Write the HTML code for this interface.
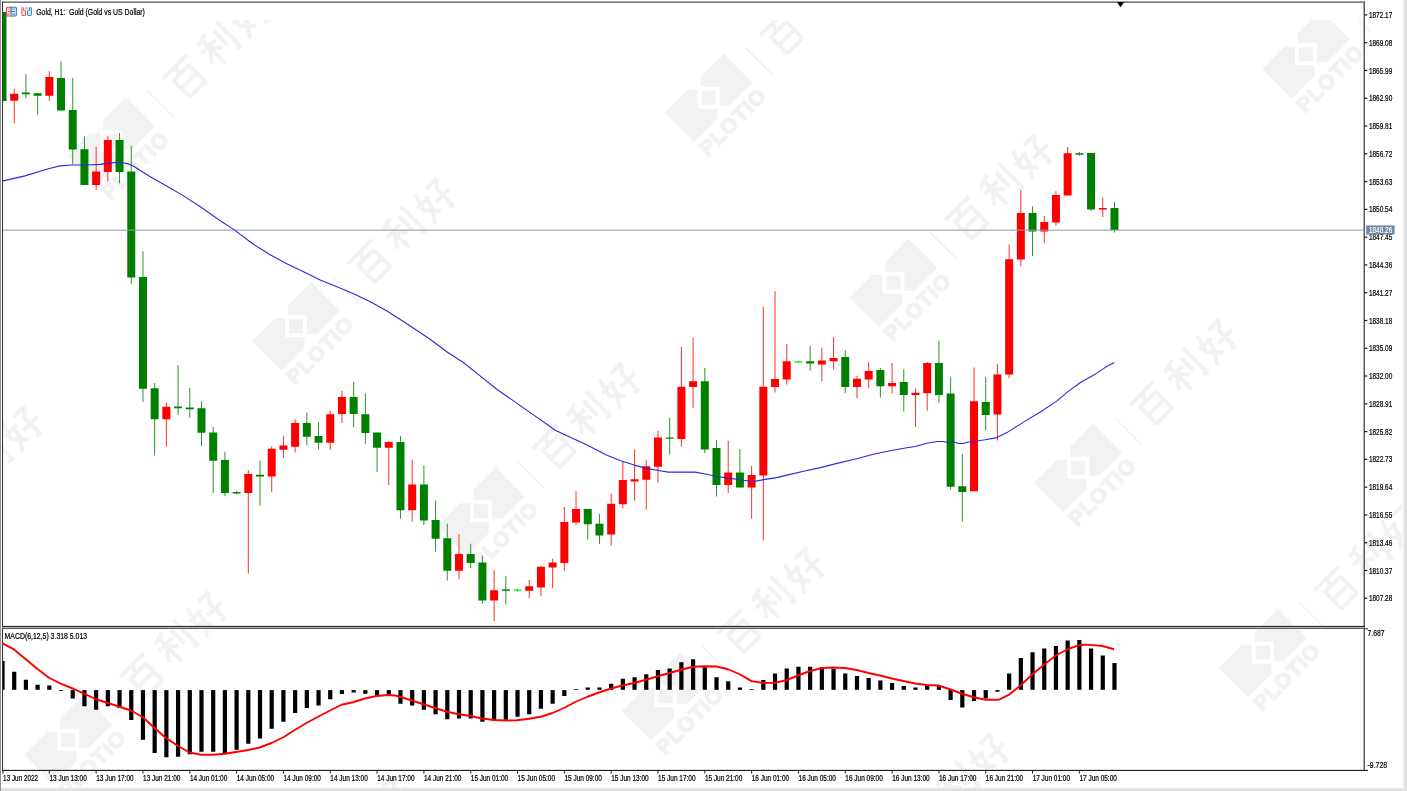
<!DOCTYPE html><html><head><meta charset="utf-8"><title>Gold H1</title>
<style>html,body{margin:0;padding:0;background:#fff;}body{width:1407px;height:791px;overflow:hidden;}svg{display:block;will-change:transform;}text{font-family:"Liberation Sans",sans-serif;}.t text{stroke:#000;stroke-width:0.22px;fill:#000;}</style>
</head><body>
<svg width="1407" height="791" viewBox="0 0 1407 791">
<rect x="0" y="0" width="1407" height="791" fill="#fff"/>
<defs>
<g id="wm" fill="#f2f2f2" stroke="none">
<path d="M15,-44 L44,-15 L21,8 L11,8 L11,-11 L-8,-11 L-8,-21 Z"/>
<path d="M-43.9,15 L-20.9,-8 L-11,-8 L-11,11 L8.5,11 L8.5,21.4 L-14.5,44.4 Z"/>
<rect x="-7" y="-7" width="14" height="14"/>
<text transform="translate(23.9,23.8) rotate(-45)" text-anchor="middle" font-weight="bold" font-size="21" letter-spacing="1.2" y="7.6" stroke="#f2f2f2" stroke-width="1.6" stroke-linejoin="miter">PLOTIO</text>
<path d="M36.4,-50.4 L63.7,-23.1" stroke="#f2f2f2" stroke-width="1.6" fill="none"/>
<g fill="none" stroke="#f2f2f2" stroke-width="10.3" stroke-linecap="butt" stroke-linejoin="bevel">
<g transform="translate(74.3,-64) rotate(-45) scale(0.39) translate(-50,-50)"><path d="M6,12 H94 M52,12 L40,34 M22,34 H78 V94 H22 Z M22,63 H78"/></g>
<g transform="translate(107,-96.7) rotate(-45) scale(0.39) translate(-50,-50)"><path d="M46,6 L10,17 M4,36 H54 M29,14 V96 M29,40 L4,74 M29,40 L52,64 M66,18 V68 M88,4 V94 L76,88"/></g>
<g transform="translate(138.8,-126.4) rotate(-45) scale(0.39) translate(-50,-50)"><path d="M24,4 L10,50 L42,82 M38,28 L30,62 L6,94 M2,34 H46 M54,14 H92 L73,36 V94 L62,88 M48,56 H98"/></g>
</g>
</g>
<clipPath id="wmclip"><rect x="0" y="20" width="1407" height="771"/></clipPath>
</defs>
<g clip-path="url(#wmclip)">
<use href="#wm" x="-116.6" y="554.7"/>
<use href="#wm" x="68.1" y="739.7"/>
<use href="#wm" x="252.9" y="924.7"/>
<use href="#wm" x="-73.5" y="-43.8"/>
<use href="#wm" x="111.2" y="141.2"/>
<use href="#wm" x="296.0" y="326.2"/>
<use href="#wm" x="480.8" y="511.2"/>
<use href="#wm" x="665.5" y="696.2"/>
<use href="#wm" x="850.2" y="881.2"/>
<use href="#wm" x="523.9" y="-87.3"/>
<use href="#wm" x="708.6" y="97.7"/>
<use href="#wm" x="893.4" y="282.7"/>
<use href="#wm" x="1078.1" y="467.7"/>
<use href="#wm" x="1262.8" y="652.7"/>
<use href="#wm" x="1447.6" y="837.7"/>
<use href="#wm" x="1306.0" y="54.2"/>
<use href="#wm" x="1490.7" y="239.2"/>
</g>
<rect x="0" y="0" width="1" height="791" fill="#919191"/>
<rect x="1402" y="0" width="2" height="791" fill="#f5f5f5"/>
<rect x="1404" y="0" width="3" height="791" fill="#dfe0e3"/>
<rect x="1" y="787.7" width="1406" height="0.7" fill="#f0f0f0"/>
<rect x="1" y="788.4" width="1406" height="2.6" fill="#dfe0e2"/>
<rect x="2" y="1.25" width="1363" height="0.8" fill="#8c8c8c"/>
<rect x="2" y="2.0" width="1363" height="0.9" fill="#6c6c6c"/>
<rect x="2" y="1.6" width="1.05" height="769" fill="#343434"/>
<rect x="1363.5" y="1.6" width="1.5" height="769" fill="#5c5c5c"/>
<rect x="2" y="625.9" width="1363" height="1.2" fill="#2a2a2a"/>
<rect x="2" y="627.1" width="1363" height="0.7" fill="#c4c4c4"/>
<rect x="2" y="627.8" width="1363" height="1.1" fill="#505050"/>
<rect x="2" y="769.85" width="1366" height="1.15" fill="#202020"/>
<path d="M1116.8,2 L1124.3,2 L1120.5,7.2 Z" fill="#000"/>
<clipPath id="cclip"><rect x="3" y="3" width="1361" height="623"/></clipPath>
<g clip-path="url(#cclip)" shape-rendering="geometricPrecision">
<rect x="2.00" y="12.0" width="1" height="89.00" fill="#2a972a"/>
<rect x="-1.50" y="12.0" width="8" height="89.00" fill="#008000"/>
<rect x="13.71" y="88.75" width="1" height="34.50" fill="#ff3030"/>
<rect x="10.21" y="93.75" width="8" height="7.00" fill="#ff0000"/>
<rect x="25.41" y="74.25" width="1" height="24.00" fill="#2a972a"/>
<rect x="21.91" y="92.5" width="8" height="1.75" fill="#008000"/>
<rect x="37.12" y="93.25" width="1" height="21.50" fill="#2a972a"/>
<rect x="33.62" y="93.25" width="8" height="2.50" fill="#008000"/>
<rect x="48.82" y="71.25" width="1" height="29.50" fill="#ff3030"/>
<rect x="45.32" y="77.0" width="8" height="18.75" fill="#ff0000"/>
<rect x="60.52" y="61.25" width="1" height="49.25" fill="#2a972a"/>
<rect x="57.02" y="78.0" width="8" height="32.50" fill="#008000"/>
<rect x="72.23" y="78.0" width="1" height="86.25" fill="#2a972a"/>
<rect x="68.73" y="110.0" width="8" height="39.50" fill="#008000"/>
<rect x="83.94" y="136.25" width="1" height="48.75" fill="#2a972a"/>
<rect x="80.44" y="149.25" width="8" height="35.75" fill="#008000"/>
<rect x="95.64" y="147.0" width="1" height="43.00" fill="#ff3030"/>
<rect x="92.14" y="171.5" width="8" height="13.50" fill="#ff0000"/>
<rect x="107.34" y="136.25" width="1" height="45.25" fill="#ff3030"/>
<rect x="103.84" y="140.0" width="8" height="32.00" fill="#ff0000"/>
<rect x="119.05" y="133.0" width="1" height="50.25" fill="#2a972a"/>
<rect x="115.55" y="140.0" width="8" height="32.00" fill="#008000"/>
<rect x="130.75" y="145.5" width="1" height="138.25" fill="#2a972a"/>
<rect x="127.25" y="171.5" width="8" height="106.00" fill="#008000"/>
<rect x="142.46" y="251.25" width="1" height="150.50" fill="#2a972a"/>
<rect x="138.96" y="277.0" width="8" height="111.75" fill="#008000"/>
<rect x="154.16" y="383.0" width="1" height="72.50" fill="#2a972a"/>
<rect x="150.66" y="388.25" width="8" height="31.00" fill="#008000"/>
<rect x="165.87" y="402.5" width="1" height="44.25" fill="#ff3030"/>
<rect x="162.37" y="406.75" width="8" height="12.50" fill="#ff0000"/>
<rect x="177.57" y="365.0" width="1" height="50.00" fill="#2a972a"/>
<rect x="174.07" y="406.5" width="8" height="1.75" fill="#008000"/>
<rect x="189.28" y="388.0" width="1" height="29.50" fill="#2a972a"/>
<rect x="185.78" y="407.5" width="8" height="1.75" fill="#008000"/>
<rect x="200.99" y="401.25" width="1" height="45.00" fill="#2a972a"/>
<rect x="197.49" y="408.25" width="8" height="24.50" fill="#008000"/>
<rect x="212.69" y="427.0" width="1" height="66.00" fill="#2a972a"/>
<rect x="209.19" y="432.5" width="8" height="28.25" fill="#008000"/>
<rect x="224.40" y="451.75" width="1" height="44.50" fill="#2a972a"/>
<rect x="220.90" y="460.0" width="8" height="33.00" fill="#008000"/>
<rect x="236.10" y="490.75" width="1" height="3.50" fill="#2a972a"/>
<rect x="232.60" y="492.0" width="8" height="1.50" fill="#008000"/>
<rect x="247.81" y="470.0" width="1" height="103.60" fill="#ff3030"/>
<rect x="244.31" y="474.0" width="8" height="19.00" fill="#ff0000"/>
<rect x="259.51" y="460.75" width="1" height="45.00" fill="#2a972a"/>
<rect x="256.01" y="474.75" width="8" height="1.75" fill="#008000"/>
<rect x="271.21" y="446.25" width="1" height="45.75" fill="#ff3030"/>
<rect x="267.71" y="448.75" width="8" height="27.75" fill="#ff0000"/>
<rect x="282.92" y="435.75" width="1" height="21.75" fill="#ff3030"/>
<rect x="279.42" y="445.5" width="8" height="4.25" fill="#ff0000"/>
<rect x="294.62" y="419.25" width="1" height="33.25" fill="#ff3030"/>
<rect x="291.12" y="423.0" width="8" height="23.75" fill="#ff0000"/>
<rect x="306.33" y="412.5" width="1" height="33.00" fill="#2a972a"/>
<rect x="302.83" y="423.0" width="8" height="13.75" fill="#008000"/>
<rect x="318.04" y="422.0" width="1" height="27.50" fill="#2a972a"/>
<rect x="314.54" y="436.0" width="8" height="6.75" fill="#008000"/>
<rect x="329.74" y="410.75" width="1" height="38.75" fill="#ff3030"/>
<rect x="326.24" y="414.25" width="8" height="28.50" fill="#ff0000"/>
<rect x="341.44" y="390.75" width="1" height="32.25" fill="#ff3030"/>
<rect x="337.94" y="397.0" width="8" height="17.00" fill="#ff0000"/>
<rect x="353.15" y="382.0" width="1" height="45.00" fill="#2a972a"/>
<rect x="349.65" y="397.0" width="8" height="17.00" fill="#008000"/>
<rect x="364.86" y="393.25" width="1" height="50.50" fill="#2a972a"/>
<rect x="361.36" y="414.25" width="8" height="18.75" fill="#008000"/>
<rect x="376.56" y="432.5" width="1" height="39.50" fill="#2a972a"/>
<rect x="373.06" y="432.5" width="8" height="15.25" fill="#008000"/>
<rect x="388.26" y="441.25" width="1" height="43.75" fill="#ff3030"/>
<rect x="384.76" y="442.0" width="8" height="5.75" fill="#ff0000"/>
<rect x="399.97" y="435.75" width="1" height="83.00" fill="#2a972a"/>
<rect x="396.47" y="442.0" width="8" height="68.25" fill="#008000"/>
<rect x="411.68" y="459.25" width="1" height="62.25" fill="#ff3030"/>
<rect x="408.18" y="484.5" width="8" height="25.75" fill="#ff0000"/>
<rect x="423.38" y="465.25" width="1" height="60.25" fill="#2a972a"/>
<rect x="419.88" y="484.5" width="8" height="36.00" fill="#008000"/>
<rect x="435.08" y="500.75" width="1" height="51.00" fill="#2a972a"/>
<rect x="431.58" y="520.0" width="8" height="18.75" fill="#008000"/>
<rect x="446.79" y="523.75" width="1" height="56.75" fill="#2a972a"/>
<rect x="443.29" y="538.25" width="8" height="32.50" fill="#008000"/>
<rect x="458.50" y="534.25" width="1" height="45.25" fill="#ff3030"/>
<rect x="455.00" y="554.0" width="8" height="16.75" fill="#ff0000"/>
<rect x="470.20" y="543.75" width="1" height="24.50" fill="#2a972a"/>
<rect x="466.70" y="554.0" width="8" height="9.00" fill="#008000"/>
<rect x="481.91" y="555.75" width="1" height="48.00" fill="#2a972a"/>
<rect x="478.41" y="562.5" width="8" height="38.00" fill="#008000"/>
<rect x="493.61" y="570.0" width="1" height="51.25" fill="#ff3030"/>
<rect x="490.11" y="590.25" width="8" height="10.25" fill="#ff0000"/>
<rect x="505.31" y="575.75" width="1" height="28.75" fill="#2a972a"/>
<rect x="501.81" y="589.25" width="8" height="1.50" fill="#008000"/>
<rect x="517.02" y="588.75" width="1" height="3.00" fill="#20f020"/>
<rect x="513.52" y="589.5" width="8" height="1.20" fill="#00f000"/>
<rect x="528.73" y="580.0" width="1" height="18.00" fill="#ff3030"/>
<rect x="525.23" y="586.25" width="8" height="4.50" fill="#ff0000"/>
<rect x="540.43" y="566.25" width="1" height="30.00" fill="#ff3030"/>
<rect x="536.93" y="566.75" width="8" height="20.75" fill="#ff0000"/>
<rect x="552.13" y="558.75" width="1" height="29.50" fill="#ff3030"/>
<rect x="548.63" y="562.5" width="8" height="5.00" fill="#ff0000"/>
<rect x="563.84" y="507.0" width="1" height="63.75" fill="#ff3030"/>
<rect x="560.34" y="522.0" width="8" height="41.00" fill="#ff0000"/>
<rect x="575.54" y="491.25" width="1" height="33.75" fill="#ff3030"/>
<rect x="572.04" y="509.0" width="8" height="13.50" fill="#ff0000"/>
<rect x="587.25" y="509.0" width="1" height="30.50" fill="#2a972a"/>
<rect x="583.75" y="509.0" width="8" height="15.25" fill="#008000"/>
<rect x="598.96" y="514.0" width="1" height="30.00" fill="#2a972a"/>
<rect x="595.46" y="523.75" width="8" height="11.75" fill="#008000"/>
<rect x="610.66" y="493.75" width="1" height="52.00" fill="#ff3030"/>
<rect x="607.16" y="503.75" width="8" height="30.75" fill="#ff0000"/>
<rect x="622.37" y="461.25" width="1" height="47.00" fill="#ff3030"/>
<rect x="618.87" y="480.0" width="8" height="24.25" fill="#ff0000"/>
<rect x="634.07" y="449.25" width="1" height="51.50" fill="#ff3030"/>
<rect x="630.57" y="479.25" width="8" height="2.25" fill="#ff0000"/>
<rect x="645.77" y="460.25" width="1" height="49.25" fill="#ff3030"/>
<rect x="642.27" y="466.25" width="8" height="13.50" fill="#ff0000"/>
<rect x="657.48" y="430.75" width="1" height="51.75" fill="#ff3030"/>
<rect x="653.98" y="437.5" width="8" height="29.25" fill="#ff0000"/>
<rect x="669.19" y="417.75" width="1" height="36.75" fill="#2a972a"/>
<rect x="665.69" y="437.5" width="8" height="1.25" fill="#008000"/>
<rect x="680.89" y="346.75" width="1" height="100.00" fill="#ff3030"/>
<rect x="677.39" y="386.75" width="8" height="52.25" fill="#ff0000"/>
<rect x="692.60" y="338.0" width="1" height="69.75" fill="#ff3030"/>
<rect x="689.10" y="381.25" width="8" height="5.75" fill="#ff0000"/>
<rect x="704.30" y="368.0" width="1" height="85.00" fill="#2a972a"/>
<rect x="700.80" y="381.25" width="8" height="68.25" fill="#008000"/>
<rect x="716.00" y="440.0" width="1" height="56.50" fill="#2a972a"/>
<rect x="712.50" y="448.0" width="8" height="37.00" fill="#008000"/>
<rect x="727.71" y="440.75" width="1" height="52.25" fill="#ff3030"/>
<rect x="724.21" y="472.5" width="8" height="12.50" fill="#ff0000"/>
<rect x="739.41" y="449.0" width="1" height="38.50" fill="#2a972a"/>
<rect x="735.91" y="472.5" width="8" height="15.00" fill="#008000"/>
<rect x="751.12" y="466.0" width="1" height="52.75" fill="#ff3030"/>
<rect x="747.62" y="475.0" width="8" height="12.50" fill="#ff0000"/>
<rect x="762.83" y="306.75" width="1" height="233.75" fill="#ff3030"/>
<rect x="759.33" y="386.75" width="8" height="88.75" fill="#ff0000"/>
<rect x="774.53" y="291.25" width="1" height="101.25" fill="#ff3030"/>
<rect x="771.03" y="379.0" width="8" height="8.00" fill="#ff0000"/>
<rect x="786.24" y="344.0" width="1" height="40.50" fill="#ff3030"/>
<rect x="782.74" y="361.25" width="8" height="18.25" fill="#ff0000"/>
<rect x="797.94" y="360.5" width="1" height="2.50" fill="#20f020"/>
<rect x="794.44" y="361.25" width="8" height="1.20" fill="#00f000"/>
<rect x="809.64" y="346.0" width="1" height="24.75" fill="#2a972a"/>
<rect x="806.14" y="361.25" width="8" height="2.25" fill="#008000"/>
<rect x="821.35" y="347.5" width="1" height="33.75" fill="#ff3030"/>
<rect x="817.85" y="360.5" width="8" height="4.00" fill="#ff0000"/>
<rect x="833.05" y="337.0" width="1" height="32.50" fill="#ff3030"/>
<rect x="829.55" y="358.0" width="8" height="3.25" fill="#ff0000"/>
<rect x="844.76" y="350.25" width="1" height="43.00" fill="#2a972a"/>
<rect x="841.26" y="357.0" width="8" height="30.00" fill="#008000"/>
<rect x="856.47" y="375.75" width="1" height="22.50" fill="#ff3030"/>
<rect x="852.97" y="378.75" width="8" height="8.25" fill="#ff0000"/>
<rect x="868.17" y="362.0" width="1" height="26.00" fill="#ff3030"/>
<rect x="864.67" y="371.0" width="8" height="8.50" fill="#ff0000"/>
<rect x="879.88" y="368.0" width="1" height="29.50" fill="#2a972a"/>
<rect x="876.38" y="370.0" width="8" height="16.25" fill="#008000"/>
<rect x="891.58" y="363.0" width="1" height="30.25" fill="#ff3030"/>
<rect x="888.08" y="383.0" width="8" height="3.25" fill="#ff0000"/>
<rect x="903.28" y="369.0" width="1" height="42.50" fill="#2a972a"/>
<rect x="899.78" y="382.0" width="8" height="13.00" fill="#008000"/>
<rect x="914.99" y="388.25" width="1" height="38.75" fill="#ff3030"/>
<rect x="911.49" y="392.75" width="8" height="2.25" fill="#ff0000"/>
<rect x="926.70" y="362.0" width="1" height="48.50" fill="#ff3030"/>
<rect x="923.20" y="363.0" width="8" height="30.25" fill="#ff0000"/>
<rect x="938.40" y="340.75" width="1" height="61.75" fill="#2a972a"/>
<rect x="934.90" y="363.0" width="8" height="32.00" fill="#008000"/>
<rect x="950.11" y="377.0" width="1" height="112.50" fill="#2a972a"/>
<rect x="946.61" y="393.5" width="8" height="93.25" fill="#008000"/>
<rect x="961.81" y="454.0" width="1" height="67.75" fill="#2a972a"/>
<rect x="958.31" y="486.25" width="8" height="5.75" fill="#008000"/>
<rect x="973.51" y="367.5" width="1" height="123.75" fill="#ff3030"/>
<rect x="970.01" y="401.25" width="8" height="90.00" fill="#ff0000"/>
<rect x="985.22" y="377.0" width="1" height="53.50" fill="#2a972a"/>
<rect x="981.72" y="402.0" width="8" height="13.00" fill="#008000"/>
<rect x="996.92" y="364.0" width="1" height="76.50" fill="#ff3030"/>
<rect x="993.42" y="374.5" width="8" height="40.00" fill="#ff0000"/>
<rect x="1008.63" y="244.25" width="1" height="134.00" fill="#ff3030"/>
<rect x="1005.13" y="259.25" width="8" height="115.25" fill="#ff0000"/>
<rect x="1020.34" y="190.0" width="1" height="76.25" fill="#ff3030"/>
<rect x="1016.84" y="213.0" width="8" height="46.50" fill="#ff0000"/>
<rect x="1032.04" y="206.25" width="1" height="50.00" fill="#2a972a"/>
<rect x="1028.54" y="213.0" width="8" height="18.50" fill="#008000"/>
<rect x="1043.75" y="215.75" width="1" height="27.25" fill="#ff3030"/>
<rect x="1040.25" y="222.0" width="8" height="9.50" fill="#ff0000"/>
<rect x="1055.45" y="191.25" width="1" height="34.25" fill="#ff3030"/>
<rect x="1051.95" y="195.0" width="8" height="27.50" fill="#ff0000"/>
<rect x="1067.15" y="147.0" width="1" height="48.50" fill="#ff3030"/>
<rect x="1063.65" y="153.25" width="8" height="42.25" fill="#ff0000"/>
<rect x="1078.86" y="152.0" width="1" height="3.50" fill="#2a972a"/>
<rect x="1075.36" y="153.25" width="8" height="1.50" fill="#008000"/>
<rect x="1090.57" y="153.0" width="1" height="58.25" fill="#2a972a"/>
<rect x="1087.07" y="153.0" width="8" height="56.50" fill="#008000"/>
<rect x="1102.27" y="197.5" width="1" height="19.50" fill="#ff3030"/>
<rect x="1098.77" y="208.0" width="8" height="1.50" fill="#ff0000"/>
<rect x="1113.97" y="202.0" width="1" height="30.50" fill="#2a972a"/>
<rect x="1110.47" y="208.0" width="8" height="22.00" fill="#008000"/>
</g>
<rect x="3" y="229.6" width="1361" height="1.1" fill="#8b9bb0" opacity="0.92"/>
<polyline fill="none" stroke="#2a2adc" stroke-width="1.1" stroke-linejoin="round" points="3.0,180.9 25,175.9 48.4,168.7 60.1,165.9 71.8,165.0 86.8,165 100.2,164.4 108.5,163.4 116.9,162.2 121.9,162.5 128.5,163.9 133.6,166.2 150.3,176.7 167,186.2 183.6,195.9 200.3,206.8 217,218.5 235,230.4 253.4,244.2 270.1,254.7 286.8,263.7 303.5,271.8 320.2,280.1 336.9,286.8 353.6,293.8 370.3,301.8 387,311 403.7,321.8 420.4,332.7 430,339.2 446.7,351.7 463.4,362.5 480.1,375.9 496.8,389.3 513.5,400.9 530.2,412.6 546.9,424.3 555.2,430.2 571.9,438 588.6,445.7 605.3,454.4 620,460.4 634.2,465.1 646.7,468.4 658.4,470.5 668.4,472.1 695.1,472.1 706.8,474.3 716.8,476.5 728.5,478.1 740.2,479.8 751.9,481.5 758.6,480.6 763.6,479.6 776.9,477.6 786.9,475.1 803.6,471.3 820.3,467.6 837,463.4 856.7,458.8 873.4,454.3 890.1,450.7 906.8,447.7 915.1,446.5 926.8,443.2 936.8,441.5 943.5,441.5 946.8,442.3 955.2,442.3 958.5,443.5 963.5,443.5 966.9,442.3 973.6,441.5 985.2,439.8 996.9,437.6 1006.9,432.6 1023.6,422.1 1040.3,412.0 1057.1,400.9 1068.3,391.4 1080.4,382.5 1095.6,373.9 1105.7,367.1 1114.3,362.4"/>
<g fill="#000">
<rect x="3.00" y="661.00" width="1.60" height="28.80"/>
<rect x="12.11" y="671.75" width="4.20" height="18.05"/>
<rect x="23.81" y="679.75" width="4.20" height="10.05"/>
<rect x="35.52" y="684.75" width="4.20" height="5.05"/>
<rect x="47.22" y="685.50" width="4.20" height="4.30"/>
<rect x="58.92" y="690.20" width="4.20" height="0.75"/>
<rect x="70.63" y="690.10" width="4.20" height="8.40"/>
<rect x="82.34" y="690.10" width="4.20" height="16.15"/>
<rect x="94.04" y="690.10" width="4.20" height="19.65"/>
<rect x="105.75" y="690.10" width="4.20" height="16.15"/>
<rect x="117.45" y="690.10" width="4.20" height="17.90"/>
<rect x="129.16" y="690.10" width="4.20" height="29.90"/>
<rect x="140.86" y="690.10" width="4.20" height="49.65"/>
<rect x="152.56" y="690.10" width="4.20" height="62.90"/>
<rect x="164.27" y="690.10" width="4.20" height="67.15"/>
<rect x="175.97" y="690.10" width="4.20" height="66.65"/>
<rect x="187.68" y="690.10" width="4.20" height="64.15"/>
<rect x="199.39" y="690.10" width="4.20" height="61.65"/>
<rect x="211.09" y="690.10" width="4.20" height="61.65"/>
<rect x="222.80" y="690.10" width="4.20" height="62.90"/>
<rect x="234.50" y="690.10" width="4.20" height="59.65"/>
<rect x="246.21" y="690.10" width="4.20" height="53.65"/>
<rect x="257.91" y="690.10" width="4.20" height="48.40"/>
<rect x="269.61" y="690.10" width="4.20" height="38.65"/>
<rect x="281.32" y="690.10" width="4.20" height="31.65"/>
<rect x="293.02" y="690.10" width="4.20" height="22.90"/>
<rect x="304.73" y="690.10" width="4.20" height="17.90"/>
<rect x="316.44" y="690.10" width="4.20" height="15.40"/>
<rect x="328.14" y="690.10" width="4.20" height="9.15"/>
<rect x="339.84" y="690.10" width="4.20" height="3.90"/>
<rect x="351.55" y="690.10" width="4.20" height="2.40"/>
<rect x="363.25" y="690.10" width="4.20" height="3.65"/>
<rect x="374.96" y="690.10" width="4.20" height="5.40"/>
<rect x="386.66" y="690.10" width="4.20" height="4.65"/>
<rect x="398.37" y="690.10" width="4.20" height="13.65"/>
<rect x="410.07" y="690.10" width="4.20" height="15.40"/>
<rect x="421.78" y="690.10" width="4.20" height="19.65"/>
<rect x="433.48" y="690.10" width="4.20" height="24.15"/>
<rect x="445.19" y="690.10" width="4.20" height="29.15"/>
<rect x="456.89" y="690.10" width="4.20" height="28.40"/>
<rect x="468.60" y="690.10" width="4.20" height="28.40"/>
<rect x="480.31" y="690.10" width="4.20" height="31.65"/>
<rect x="492.01" y="690.10" width="4.20" height="30.40"/>
<rect x="503.71" y="690.10" width="4.20" height="29.65"/>
<rect x="515.42" y="690.10" width="4.20" height="26.65"/>
<rect x="527.12" y="690.10" width="4.20" height="24.15"/>
<rect x="538.83" y="690.10" width="4.20" height="18.65"/>
<rect x="550.53" y="690.10" width="4.20" height="13.65"/>
<rect x="562.24" y="690.10" width="4.20" height="5.90"/>
<rect x="573.94" y="689.00" width="4.20" height="0.75"/>
<rect x="585.65" y="687.50" width="4.20" height="2.30"/>
<rect x="597.36" y="687.50" width="4.20" height="2.30"/>
<rect x="609.06" y="683.75" width="4.20" height="6.05"/>
<rect x="620.76" y="678.75" width="4.20" height="11.05"/>
<rect x="632.47" y="677.25" width="4.20" height="12.55"/>
<rect x="644.17" y="674.25" width="4.20" height="15.55"/>
<rect x="655.88" y="670.00" width="4.20" height="19.80"/>
<rect x="667.59" y="668.50" width="4.20" height="21.30"/>
<rect x="679.29" y="662.25" width="4.20" height="27.55"/>
<rect x="691.00" y="659.25" width="4.20" height="30.55"/>
<rect x="702.70" y="667.25" width="4.20" height="22.55"/>
<rect x="714.40" y="677.25" width="4.20" height="12.55"/>
<rect x="726.11" y="681.25" width="4.20" height="8.55"/>
<rect x="737.81" y="687.50" width="4.20" height="2.30"/>
<rect x="749.52" y="689.00" width="4.20" height="0.75"/>
<rect x="761.23" y="680.00" width="4.20" height="9.80"/>
<rect x="772.93" y="673.50" width="4.20" height="16.30"/>
<rect x="784.63" y="668.50" width="4.20" height="21.30"/>
<rect x="796.34" y="666.75" width="4.20" height="23.05"/>
<rect x="808.04" y="666.75" width="4.20" height="23.05"/>
<rect x="819.75" y="667.25" width="4.20" height="22.55"/>
<rect x="831.45" y="668.75" width="4.20" height="21.05"/>
<rect x="843.16" y="673.50" width="4.20" height="16.30"/>
<rect x="854.87" y="676.00" width="4.20" height="13.80"/>
<rect x="866.57" y="678.00" width="4.20" height="11.80"/>
<rect x="878.27" y="680.50" width="4.20" height="9.30"/>
<rect x="889.98" y="683.00" width="4.20" height="6.80"/>
<rect x="901.68" y="686.00" width="4.20" height="3.80"/>
<rect x="913.39" y="687.50" width="4.20" height="2.30"/>
<rect x="925.10" y="684.75" width="4.20" height="5.05"/>
<rect x="936.80" y="686.00" width="4.20" height="3.80"/>
<rect x="948.50" y="690.10" width="4.20" height="9.90"/>
<rect x="960.21" y="690.10" width="4.20" height="17.40"/>
<rect x="971.91" y="690.10" width="4.20" height="10.90"/>
<rect x="983.62" y="690.10" width="4.20" height="8.40"/>
<rect x="995.32" y="690.10" width="4.20" height="1.65"/>
<rect x="1007.03" y="673.50" width="4.20" height="16.30"/>
<rect x="1018.74" y="658.00" width="4.20" height="31.80"/>
<rect x="1030.44" y="652.25" width="4.20" height="37.55"/>
<rect x="1042.15" y="648.50" width="4.20" height="41.30"/>
<rect x="1053.85" y="646.00" width="4.20" height="43.80"/>
<rect x="1065.56" y="640.50" width="4.20" height="49.30"/>
<rect x="1077.26" y="640.00" width="4.20" height="49.80"/>
<rect x="1088.97" y="648.50" width="4.20" height="41.30"/>
<rect x="1100.67" y="655.50" width="4.20" height="34.30"/>
<rect x="1112.38" y="663.00" width="4.20" height="26.80"/>
</g>
<polyline fill="none" stroke="#ff0000" stroke-width="1.9" stroke-linejoin="round" points="2.6,643.3 14,649.4 25.8,659.3 37.2,668.8 48.6,677.5 60.7,683.6 72.8,688.5 84.2,693.6 96,699.25 108,703 119.5,706.75 131,710.5 143,717.25 154.5,728 166,738 178,746 189.75,752.5 201,754.75 213,754.75 224.75,753.75 236,752 248,750 259.75,747.5 271.5,743 283,737.5 294.75,730 306.5,723 318,716.75 330,710.5 341.5,704.75 353,702.25 365,698.5 376.5,696 388,695 395,695.5 400,696.75 411.75,700.5 423.5,704.25 435,708 447,711.75 458.75,714.25 470.5,716 482,718.5 494,720 505.75,720.5 517,720.25 529,718.75 540.75,716.75 552.5,713 564,708 575.75,701.75 587.5,696.75 599,692.5 611,688.5 622.5,685.5 634,683 646,679.75 657.75,676.25 669.5,673 681,669.75 693,666.75 704.75,666.25 716.5,666.5 728,669.25 739.75,674.25 751.5,681.1 763,683 775,682.9 786.75,680 798,675.5 810,671 821.75,668 833,667.5 845,668 856.75,670 868.5,673 880,675.5 891.75,678.5 903.5,681 915,683.5 927,685 938.5,685.5 950,689.25 962,693.75 973.75,697.25 985.5,699.7 997,699.8 999.2,699.6 1003,697.7 1009,694.7 1020.75,685.2 1032.5,674.3 1044,664.75 1055.75,655.5 1067.5,649.25 1079,645.2 1085,644.8 1090.75,644.9 1102.5,646 1114,649.25"/>
<g class="t">
<g font-size="9.2" fill="#101010">
<rect x="1364.5" y="14.30" width="2.8" height="1.2" fill="#151515"/>
<text x="1368.9" y="18.00" textLength="23.4" lengthAdjust="spacingAndGlyphs">1872.17</text>
<rect x="1364.5" y="42.08" width="2.8" height="1.2" fill="#151515"/>
<text x="1368.9" y="45.78" textLength="23.4" lengthAdjust="spacingAndGlyphs">1869.08</text>
<rect x="1364.5" y="69.86" width="2.8" height="1.2" fill="#151515"/>
<text x="1368.9" y="73.56" textLength="23.4" lengthAdjust="spacingAndGlyphs">1865.99</text>
<rect x="1364.5" y="97.64" width="2.8" height="1.2" fill="#151515"/>
<text x="1368.9" y="101.34" textLength="23.4" lengthAdjust="spacingAndGlyphs">1862.90</text>
<rect x="1364.5" y="125.42" width="2.8" height="1.2" fill="#151515"/>
<text x="1368.9" y="129.12" textLength="23.4" lengthAdjust="spacingAndGlyphs">1859.81</text>
<rect x="1364.5" y="153.20" width="2.8" height="1.2" fill="#151515"/>
<text x="1368.9" y="156.90" textLength="23.4" lengthAdjust="spacingAndGlyphs">1856.72</text>
<rect x="1364.5" y="180.98" width="2.8" height="1.2" fill="#151515"/>
<text x="1368.9" y="184.68" textLength="23.4" lengthAdjust="spacingAndGlyphs">1853.63</text>
<rect x="1364.5" y="208.76" width="2.8" height="1.2" fill="#151515"/>
<text x="1368.9" y="212.46" textLength="23.4" lengthAdjust="spacingAndGlyphs">1850.54</text>
<rect x="1364.5" y="236.54" width="2.8" height="1.2" fill="#151515"/>
<text x="1368.9" y="240.24" textLength="23.4" lengthAdjust="spacingAndGlyphs">1847.45</text>
<rect x="1364.5" y="264.32" width="2.8" height="1.2" fill="#151515"/>
<text x="1368.9" y="268.02" textLength="23.4" lengthAdjust="spacingAndGlyphs">1844.36</text>
<rect x="1364.5" y="292.10" width="2.8" height="1.2" fill="#151515"/>
<text x="1368.9" y="295.80" textLength="23.4" lengthAdjust="spacingAndGlyphs">1841.27</text>
<rect x="1364.5" y="319.88" width="2.8" height="1.2" fill="#151515"/>
<text x="1368.9" y="323.58" textLength="23.4" lengthAdjust="spacingAndGlyphs">1838.18</text>
<rect x="1364.5" y="347.66" width="2.8" height="1.2" fill="#151515"/>
<text x="1368.9" y="351.36" textLength="23.4" lengthAdjust="spacingAndGlyphs">1835.09</text>
<rect x="1364.5" y="375.44" width="2.8" height="1.2" fill="#151515"/>
<text x="1368.9" y="379.14" textLength="23.4" lengthAdjust="spacingAndGlyphs">1832.00</text>
<rect x="1364.5" y="403.22" width="2.8" height="1.2" fill="#151515"/>
<text x="1368.9" y="406.92" textLength="23.4" lengthAdjust="spacingAndGlyphs">1828.91</text>
<rect x="1364.5" y="431.00" width="2.8" height="1.2" fill="#151515"/>
<text x="1368.9" y="434.70" textLength="23.4" lengthAdjust="spacingAndGlyphs">1825.82</text>
<rect x="1364.5" y="458.78" width="2.8" height="1.2" fill="#151515"/>
<text x="1368.9" y="462.48" textLength="23.4" lengthAdjust="spacingAndGlyphs">1822.73</text>
<rect x="1364.5" y="486.56" width="2.8" height="1.2" fill="#151515"/>
<text x="1368.9" y="490.26" textLength="23.4" lengthAdjust="spacingAndGlyphs">1819.64</text>
<rect x="1364.5" y="514.34" width="2.8" height="1.2" fill="#151515"/>
<text x="1368.9" y="518.04" textLength="23.4" lengthAdjust="spacingAndGlyphs">1816.55</text>
<rect x="1364.5" y="542.12" width="2.8" height="1.2" fill="#151515"/>
<text x="1368.9" y="545.82" textLength="23.4" lengthAdjust="spacingAndGlyphs">1813.46</text>
<rect x="1364.5" y="569.90" width="2.8" height="1.2" fill="#151515"/>
<text x="1368.9" y="573.60" textLength="23.4" lengthAdjust="spacingAndGlyphs">1810.37</text>
<rect x="1364.5" y="597.68" width="2.8" height="1.2" fill="#151515"/>
<text x="1368.9" y="601.38" textLength="23.4" lengthAdjust="spacingAndGlyphs">1807.28</text>
<rect x="1364.5" y="628.3" width="3.5" height="1" fill="#303030"/>
<text x="1367.6" y="635.6" textLength="17" lengthAdjust="spacingAndGlyphs">7.687</text>
<text x="1367.6" y="768.4" textLength="19.4" lengthAdjust="spacingAndGlyphs">-9.728</text>
</g>
<rect x="1366.1" y="225.4" width="28.5" height="9.1" fill="#7288a6"/>
<text x="1368.9" y="233.3" font-size="9.2" style="fill:#fff;stroke:#fff;stroke-width:0.15px" textLength="23.4" lengthAdjust="spacingAndGlyphs">1848.26</text>
<g font-size="8.3" fill="#101010">
<rect x="2.50" y="770" width="1" height="3.6" fill="#222"/>
<text x="3.10" y="781.1" textLength="35.0" lengthAdjust="spacingAndGlyphs">13 Jun 2022</text>
<rect x="48.82" y="770" width="1" height="3.6" fill="#222"/>
<text x="49.42" y="781.1" textLength="37.4" lengthAdjust="spacingAndGlyphs">13 Jun 13:00</text>
<rect x="95.64" y="770" width="1" height="3.6" fill="#222"/>
<text x="96.24" y="781.1" textLength="37.4" lengthAdjust="spacingAndGlyphs">13 Jun 17:00</text>
<rect x="142.46" y="770" width="1" height="3.6" fill="#222"/>
<text x="143.06" y="781.1" textLength="37.4" lengthAdjust="spacingAndGlyphs">13 Jun 21:00</text>
<rect x="189.28" y="770" width="1" height="3.6" fill="#222"/>
<text x="189.88" y="781.1" textLength="37.4" lengthAdjust="spacingAndGlyphs">14 Jun 01:00</text>
<rect x="236.10" y="770" width="1" height="3.6" fill="#222"/>
<text x="236.70" y="781.1" textLength="37.4" lengthAdjust="spacingAndGlyphs">14 Jun 05:00</text>
<rect x="282.92" y="770" width="1" height="3.6" fill="#222"/>
<text x="283.52" y="781.1" textLength="37.4" lengthAdjust="spacingAndGlyphs">14 Jun 09:00</text>
<rect x="329.74" y="770" width="1" height="3.6" fill="#222"/>
<text x="330.34" y="781.1" textLength="37.4" lengthAdjust="spacingAndGlyphs">14 Jun 13:00</text>
<rect x="376.56" y="770" width="1" height="3.6" fill="#222"/>
<text x="377.16" y="781.1" textLength="37.4" lengthAdjust="spacingAndGlyphs">14 Jun 17:00</text>
<rect x="423.38" y="770" width="1" height="3.6" fill="#222"/>
<text x="423.98" y="781.1" textLength="37.4" lengthAdjust="spacingAndGlyphs">14 Jun 21:00</text>
<rect x="470.20" y="770" width="1" height="3.6" fill="#222"/>
<text x="470.80" y="781.1" textLength="37.4" lengthAdjust="spacingAndGlyphs">15 Jun 01:00</text>
<rect x="517.02" y="770" width="1" height="3.6" fill="#222"/>
<text x="517.62" y="781.1" textLength="37.4" lengthAdjust="spacingAndGlyphs">15 Jun 05:00</text>
<rect x="563.84" y="770" width="1" height="3.6" fill="#222"/>
<text x="564.44" y="781.1" textLength="37.4" lengthAdjust="spacingAndGlyphs">15 Jun 09:00</text>
<rect x="610.66" y="770" width="1" height="3.6" fill="#222"/>
<text x="611.26" y="781.1" textLength="37.4" lengthAdjust="spacingAndGlyphs">15 Jun 13:00</text>
<rect x="657.48" y="770" width="1" height="3.6" fill="#222"/>
<text x="658.08" y="781.1" textLength="37.4" lengthAdjust="spacingAndGlyphs">15 Jun 17:00</text>
<rect x="704.30" y="770" width="1" height="3.6" fill="#222"/>
<text x="704.90" y="781.1" textLength="37.4" lengthAdjust="spacingAndGlyphs">15 Jun 21:00</text>
<rect x="751.12" y="770" width="1" height="3.6" fill="#222"/>
<text x="751.72" y="781.1" textLength="37.4" lengthAdjust="spacingAndGlyphs">16 Jun 01:00</text>
<rect x="797.94" y="770" width="1" height="3.6" fill="#222"/>
<text x="798.54" y="781.1" textLength="37.4" lengthAdjust="spacingAndGlyphs">16 Jun 05:00</text>
<rect x="844.76" y="770" width="1" height="3.6" fill="#222"/>
<text x="845.36" y="781.1" textLength="37.4" lengthAdjust="spacingAndGlyphs">16 Jun 09:00</text>
<rect x="891.58" y="770" width="1" height="3.6" fill="#222"/>
<text x="892.18" y="781.1" textLength="37.4" lengthAdjust="spacingAndGlyphs">16 Jun 13:00</text>
<rect x="938.40" y="770" width="1" height="3.6" fill="#222"/>
<text x="939.00" y="781.1" textLength="37.4" lengthAdjust="spacingAndGlyphs">16 Jun 17:00</text>
<rect x="985.22" y="770" width="1" height="3.6" fill="#222"/>
<text x="985.82" y="781.1" textLength="37.4" lengthAdjust="spacingAndGlyphs">16 Jun 21:00</text>
<rect x="1032.04" y="770" width="1" height="3.6" fill="#222"/>
<text x="1032.64" y="781.1" textLength="37.4" lengthAdjust="spacingAndGlyphs">17 Jun 01:00</text>
<rect x="1078.86" y="770" width="1" height="3.6" fill="#222"/>
<text x="1079.46" y="781.1" textLength="37.4" lengthAdjust="spacingAndGlyphs">17 Jun 05:00</text>
</g>
<text x="36.2" y="14.8" font-size="9.1" fill="#000" stroke="#000" stroke-width="0.2" textLength="108.7" lengthAdjust="spacingAndGlyphs" xml:space="preserve">Gold, H1:  Gold (Gold vs US Dollar)</text>
<text x="4.6" y="639.3" font-size="8.3" fill="#1a1a1a" textLength="82.5" lengthAdjust="spacingAndGlyphs">MACD(6,12,5) 3.318 5.013</text>
</g>
<g id="ico1">
<path d="M11.2,7.2 H7.4 Q6.5,7.2 6.5,8.1 V15.1 Q6.5,16 7.4,16 H11.2 Z" fill="#fff" stroke="#e04545" stroke-width="1.1"/>
<path d="M11.2,7.2 H15.4 Q16.3,7.2 16.3,8.1 V15.1 Q16.3,16 15.4,16 H11.2 Z" fill="#fff" stroke="#2f78c0" stroke-width="1.1"/>
<rect x="7.4" y="8.3" width="3.6" height="1.5" fill="#f3a0a0"/>
<rect x="11.6" y="8.3" width="3.6" height="1.5" fill="#7fb3e0"/>
<rect x="7.8" y="11.1" width="3" height="0.9" fill="#e03030"/>
<rect x="12" y="11.1" width="3" height="0.9" fill="#1560b0"/>
<rect x="7.2" y="13.2" width="4" height="2.4" fill="#f3a0a0"/>
<rect x="11.4" y="13.2" width="4" height="2.4" fill="#7fb3e0"/>
</g>
<g id="ico2">
<path d="M21.8,8.2 Q21.8,7.6 22.4,7.6 H23 Q23.6,7.6 23.6,8.2 V10.4 H24.9 Q25.6,10.4 25.6,11.1 V14.8 Q25.6,15.5 24.9,15.5 H22.5 Q21.8,15.5 21.8,14.8 Z" fill="#fde0dc" stroke="#e25858" stroke-width="1"/>
<path d="M31.4,8.2 Q31.4,7.6 30.8,7.6 H30.2 Q29.6,7.6 29.6,8.2 V10.4 H28.3 Q27.6,10.4 27.6,11.1 V14.8 Q27.6,15.5 28.3,15.5 H30.7 Q31.4,15.5 31.4,14.8 Z" fill="#d3ecff" stroke="#2f7fc2" stroke-width="1"/>
<rect x="25.1" y="7.3" width="3.2" height="1.9" fill="#bdbdbd"/>
</g>
</svg></body></html>
